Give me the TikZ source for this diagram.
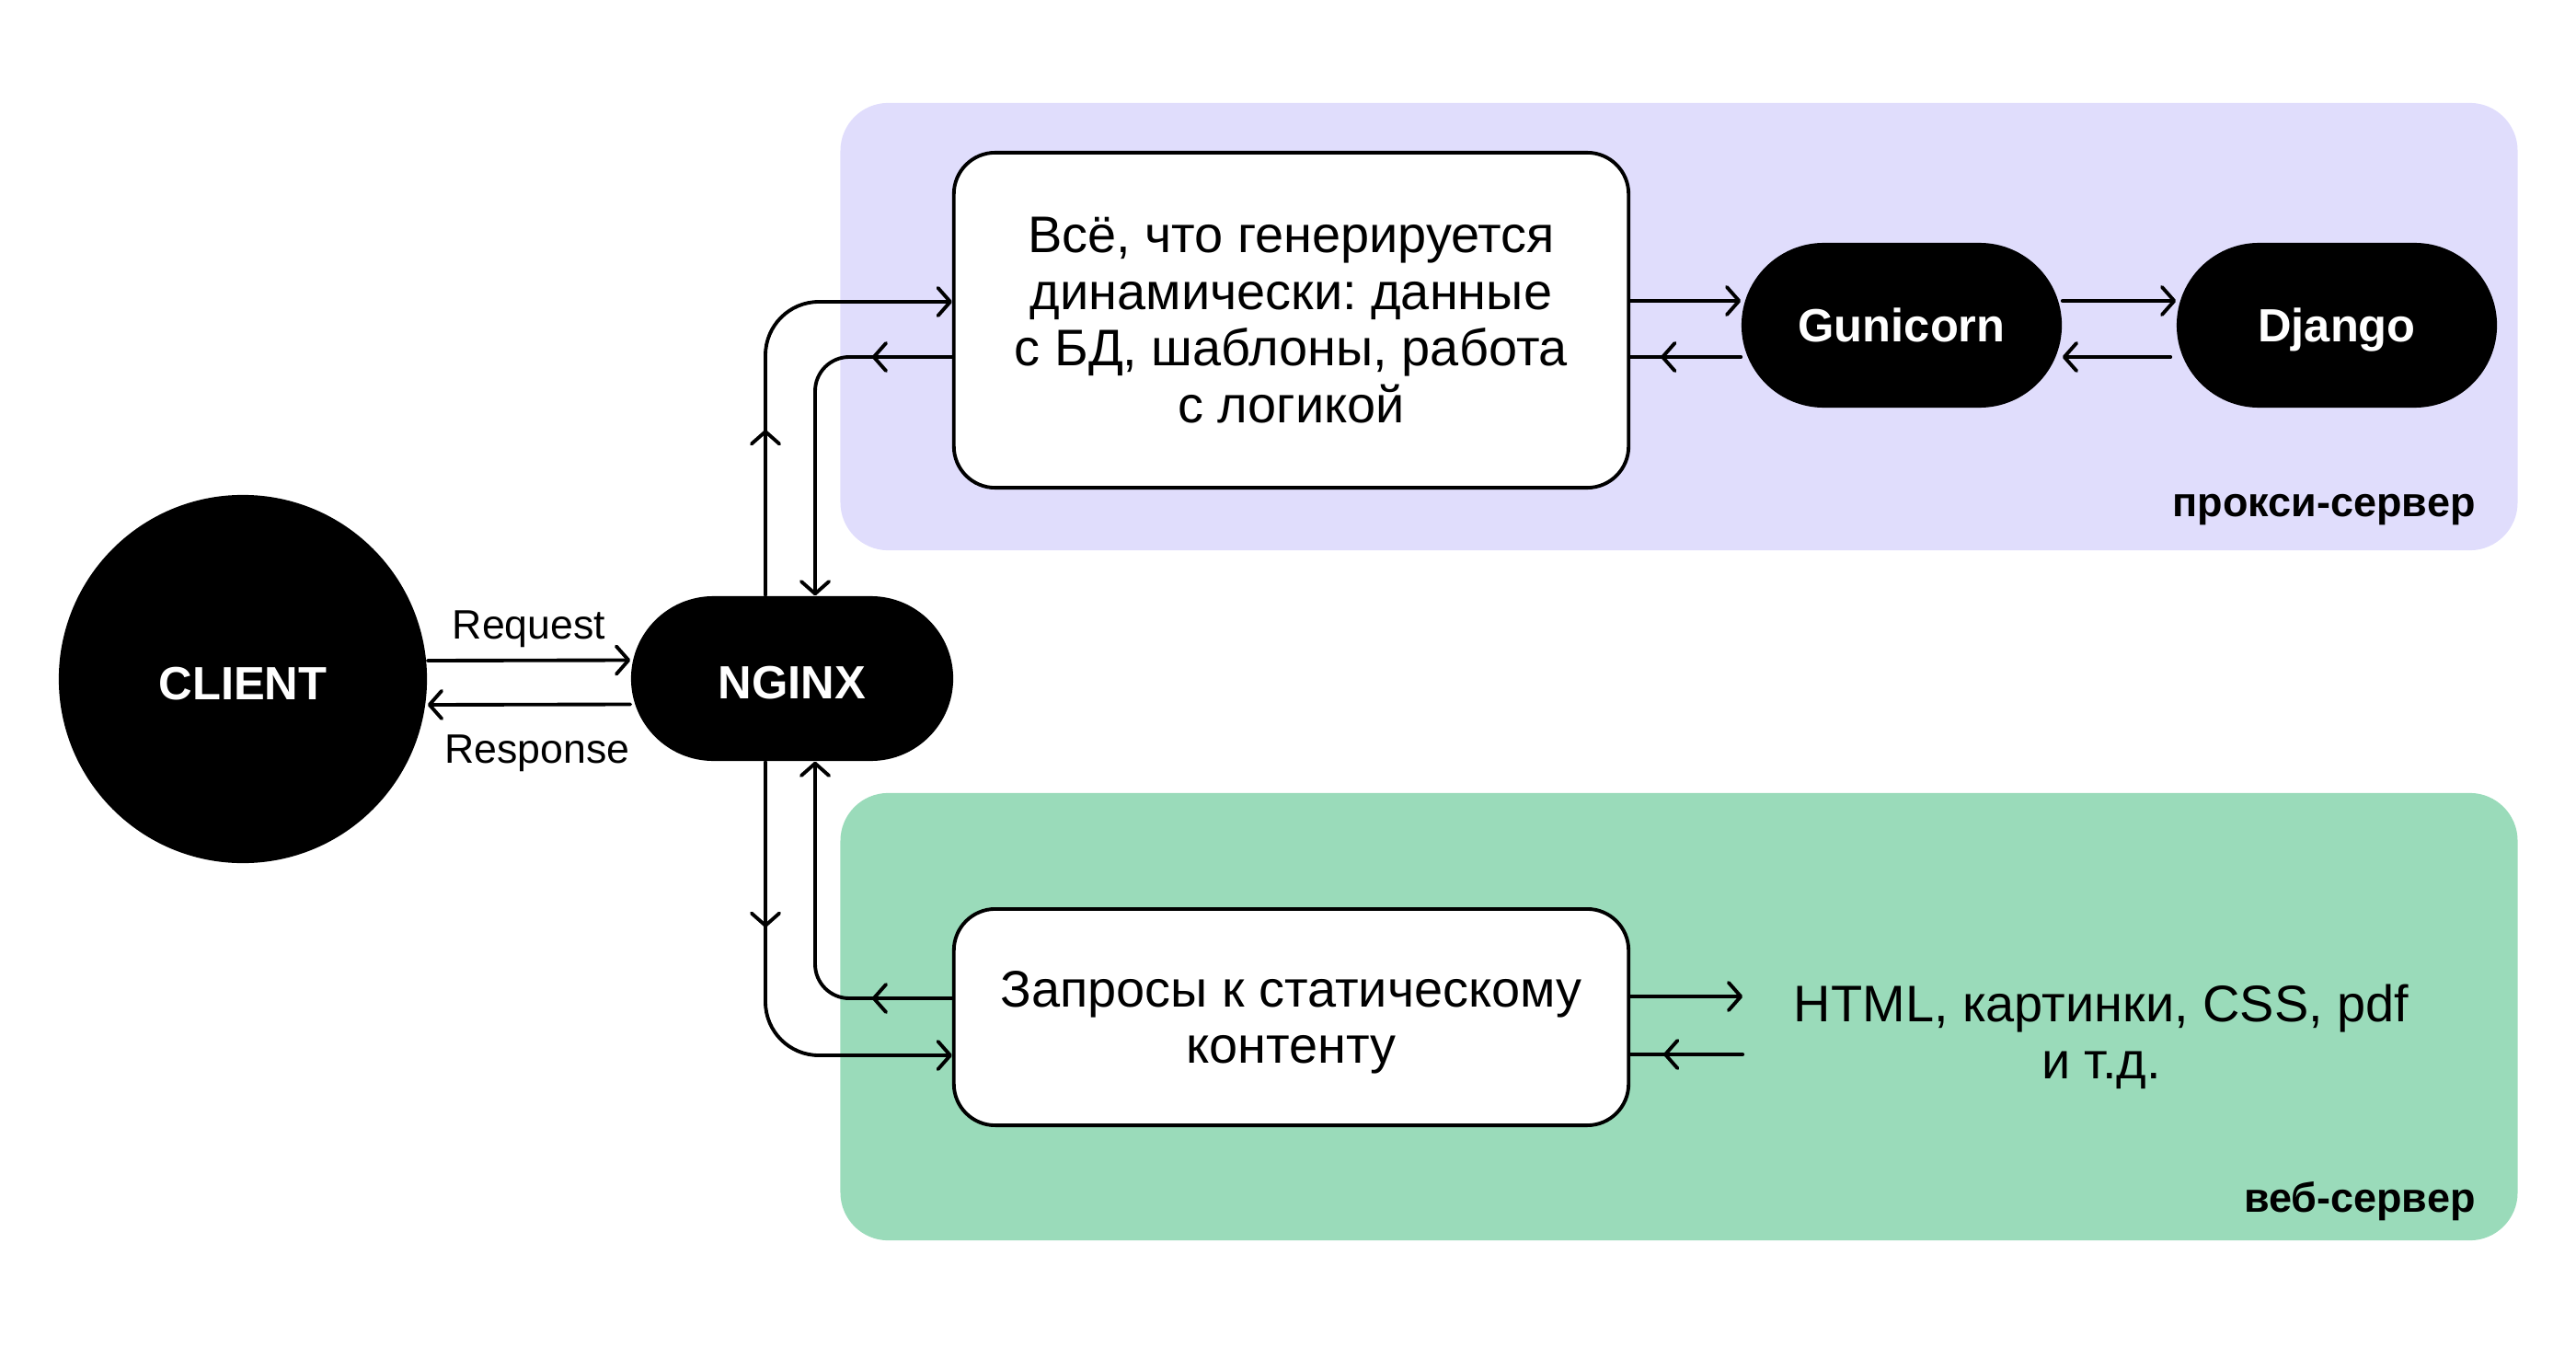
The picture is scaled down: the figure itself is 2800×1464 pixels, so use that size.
\documentclass[tikz,border=0pt]{standalone}
\usepackage{fontspec}
\setmainfont{Liberation Sans}
\usetikzlibrary{arrows.meta,calc,decorations.markings}
\definecolor{proxyc}{HTML}{E0DDFC}
\definecolor{webc}{HTML}{9ADBBA}
\frenchspacing
\tikzset{
  ln/.style={line width=1.1pt, line cap=round, line join=round},
  arr/.style={ln, -{Straight Barb[length=3.8pt,width=8.6pt,round]}},
  midarr/.style={ln, postaction={decorate}, decoration={markings, mark=at position #1 with {\arrow{Straight Barb[length=3.8pt,width=8.6pt,round]}}}},
  group/.style={rectangle, rounded corners=0.52cm, inner sep=0},
  darknode/.style={rectangle, fill=black, text=white, font=\bfseries\fontsize{14.4}{17}\selectfont, minimum height=1.79cm, rounded corners=0.895cm, inner sep=0, text height=10.3pt, text depth=0pt},
  whitebox/.style={rectangle, draw=black, line width=1.1pt, fill=white, rounded corners=0.45cm, minimum width=7.33cm, align=center, font=\fontsize{15.9}{17.6}\selectfont, inner sep=0},
  grouplabel/.style={font=\bfseries\fontsize{12.8}{15}\selectfont, anchor=base east, inner sep=0},
  flowlabel/.style={font=\fontsize{12.7}{15}\selectfont, inner sep=0},
}
\begin{document}
\begin{tikzpicture}[x=0.01cm,y=-0.01cm]
\useasboundingbox (0,0) rectangle (2800,1464);
% groups
\node[group, fill=proxyc, minimum width=18.22cm, minimum height=4.86cm] (proxy) at (1825,355) {};
\node[group, fill=webc, minimum width=18.22cm, minimum height=4.86cm] (web) at (1825,1105) {};
\node[grouplabel] (proxylbl) at ($(proxy.south east)+(-46,-37)$) {прокси-сервер};
\node[grouplabel] (weblbl) at ($(web.south east)+(-46,-31)$) {веб-сервер};
% nodes
\node[circle, fill=black, minimum size=4cm, inner sep=0, text=white, font=\bfseries\fontsize{14.4}{17}\selectfont, text height=12.6pt, text depth=0pt] (client) at (264,738) {CLIENT};
\node[darknode, minimum width=3.5cm, text height=12.6pt] (nginx) at (861,737.5) {NGINX};
\node[whitebox, minimum height=3.64cm] (dyn) at (1403.5,348) {Всё, что генерируется\\динамически: данные\\с БД, шаблоны, работа\\с логикой};
\node[whitebox, minimum height=2.35cm, text depth=0pt] (static) at (1403.5,1105.5) {Запросы к статическому\\контенту};
\node[darknode, minimum width=3.48cm] (gun) at (2067,353.5) {Gunicorn};
\node[darknode, minimum width=3.48cm] (dj) at (2540,353.5) {Django};
\node[align=center, inner sep=0, font=\fontsize{15.9}{17.6}\selectfont, text depth=0pt] (html) at (2284,1121) {HTML, картинки, CSS, pdf\\и т.д.};
% client <-> nginx
\draw[arr] ($(client.east)+(0,-20)$) -- ($(nginx.west)+(0,-20)$)
  node[flowlabel, midway, anchor=base, yshift=0.23cm] (req) {Request};
\draw[arr] ($(nginx.west)+(0,28)$) -- ($(client.east)+(0,28)$)
  node[flowlabel, midway, anchor=base, yshift=-0.64cm, xshift=0.09cm] (resp) {Response};
% nginx <-> dyn
\draw[midarr=1.8cm, arr, rounded corners=0.58cm] ($(nginx.north)+(-29,0)$) |- ($(dyn.west)+(0,-20)$);
\draw[midarr=0.87cm, arr, rounded corners=0.37cm] ($(dyn.west)+(0,40)$) -| ($(nginx.north)+(25,0)$);
% nginx <-> static
\draw[midarr=1.8cm, arr, rounded corners=0.58cm] ($(nginx.south)+(-29,0)$) |- ($(static.west)+(0,41.5)$);
\draw[midarr=0.87cm, arr, rounded corners=0.37cm] ($(static.west)+(0,-20.5)$) -| ($(nginx.south)+(25,0)$);
% dyn <-> gunicorn <-> django
\coordinate (a1) at ($(dyn.east)+(0,-21)$);
\coordinate (a2) at ($(gun.west)+(0,34.5)$);
\draw[arr] (a1) -- (gun.west |- a1);
\draw[midarr=0.87cm] (a2) -- (dyn.east |- a2);
\draw[arr] (gun.east |- a1) -- (dj.west |- a1);
\draw[arr] ($(dj.west |- a2)+(-6,0)$) -- (gun.east |- a2);
% static <-> html
\coordinate (b1) at ($(static.east)+(0,-22.5)$);
\coordinate (b2) at ($(static.east)+(122,40.5)$);
\draw[arr] (b1) -- (b1 -| b2);
\draw[midarr=0.86cm] (b2) -- (static.east |- b2);
\end{tikzpicture}
\end{document}
